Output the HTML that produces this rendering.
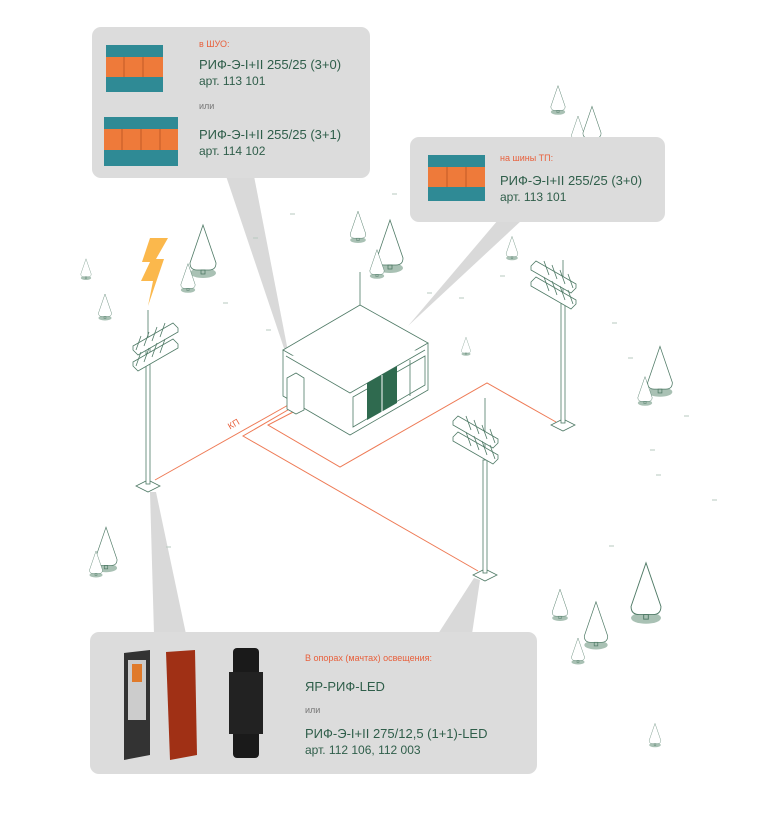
<!DOCTYPE html>
<html><head><meta charset="utf-8"><style>
html,body{margin:0;padding:0;background:#fff;}
body{width:763px;height:840px;position:relative;overflow:hidden;font-family:"Liberation Sans",sans-serif;}
.t{position:absolute;color:#2f5e4a;white-space:nowrap;}
.o{color:#e8603c;font-size:9px;}
.g{color:#777;font-size:9px;}
.b{font-size:13px;}
.s{font-size:12px;}
</style></head><body>
<svg width="763" height="840" style="position:absolute;left:0;top:0">
<defs>
<g id="tree"><ellipse cx="0" cy="0" rx="13" ry="5" fill="#a9c1b4"/><path d="M0,-48 L-13,-10 Q-13,-3 -6,-3 L6,-3 Q13,-3 13,-10 Z" fill="#fff" stroke="#4f7a66" stroke-width="0.8"/><rect x="-2" y="-3" width="4" height="4" fill="none" stroke="#4f7a66" stroke-width="0.8"/></g>
<g id="lamp" fill="#fff" stroke="#4f7a66" stroke-width="0.8"><path d="M-12,-6 L28,-29 L33,-24 L33,-20 L-7,3 L-12,-2 Z"/><path d="M-9,-2 L-4,-16 M-1,-6 L4,-20 M7,-11 L12,-25 M15,-15 L20,-29"/><path d="M-12,10 L28,-13 L33,-8 L33,-4 L-7,19 L-12,14 Z"/><path d="M-9,14 L-4,0 M-1,10 L4,-4 M7,5 L12,-9 M15,1 L20,-13"/></g>
</defs>
<!-- pointers -->
<polygon points="226,176 254,176 292,372" fill="#d9d9d9"/>
<polygon points="498,220 522,220 408,326" fill="#d9d9d9"/>
<polygon points="150,492 156,492 186,634 154,634" fill="#d9d9d9"/>
<polygon points="474,578 480,580 472,634 438,634" fill="#d9d9d9"/>
<!-- trees -->
<use href="#tree" transform="translate(203,273)"/>
<use href="#tree" transform="translate(188,290) scale(0.55)"/>
<use href="#tree" transform="translate(105,318) scale(0.5)"/>
<use href="#tree" transform="translate(86,278) scale(0.4)"/>
<use href="#tree" transform="translate(558,112) scale(0.55)"/>
<use href="#tree" transform="translate(578,140) scale(0.5)"/>
<use href="#tree" transform="translate(592,140) scale(0.7)"/>
<use href="#tree" transform="translate(358,240) scale(0.6)"/>
<use href="#tree" transform="translate(390,268) scale(1)"/>
<use href="#tree" transform="translate(377,276) scale(0.55)"/>
<use href="#tree" transform="translate(512,258) scale(0.45)"/>
<use href="#tree" transform="translate(466,354) scale(0.35)"/>
<use href="#tree" transform="translate(660,392) scale(0.95)"/>
<use href="#tree" transform="translate(645,403) scale(0.55)"/>
<use href="#tree" transform="translate(106,568) scale(0.85)"/>
<use href="#tree" transform="translate(96,575) scale(0.5)"/>
<use href="#tree" transform="translate(646,618) scale(1.15)"/>
<use href="#tree" transform="translate(560,618) scale(0.6)"/>
<use href="#tree" transform="translate(596,645) scale(0.9)"/>
<use href="#tree" transform="translate(578,662) scale(0.5)"/>
<use href="#tree" transform="translate(655,745) scale(0.45)"/>
<!-- dashes -->
<g stroke="#b7c9bf" stroke-width="1">
<path d="M290,214h5M253,238h5M223,303h5M266,330h5M427,293h5M459,298h5M500,276h5M612,323h5M628,358h5M684,416h5M650,450h5M656,475h5M712,500h5M166,547h5M609,546h5M480,196h5M392,194h5"/>
</g>
<!-- orange lines -->
<g fill="none" stroke="#ee7a55" stroke-width="1">
<path d="M155,480 L290,404"/>
<path d="M293,407 L243,436 L478,571"/>
<path d="M297,410 L268,425 L340,467 L487,383 L556,422"/>
</g>
<text x="228" y="428" fill="#e8603c" font-size="9" font-family="Liberation Sans" transform="rotate(-30 232 425)">КП</text>
<!-- bolt -->
<polygon points="150,238 168,238 156,259 164,259 148,306 153,281 141,281 150,262 142,262" fill="#fbb84c"/>
<!-- poles -->
<g fill="#fff" stroke="#4f7a66" stroke-width="0.8">
<path d="M136,486 L148,480 L160,486 L148,492 Z"/>
<rect x="146" y="340" width="4" height="144"/>
<line x1="148" y1="310" x2="148" y2="340"/>
<path d="M473,575 L485,569 L497,575 L485,581 Z"/>
<rect x="483" y="460" width="4" height="113"/>
<line x1="485" y1="398" x2="485" y2="460"/>
<path d="M551,425 L563,419 L575,425 L563,431 Z"/>
<rect x="561" y="300" width="4" height="123"/>
<line x1="563" y1="260" x2="563" y2="300"/>
</g>
<use href="#lamp" transform="translate(145,352)"/>
<use href="#lamp" transform="translate(486,445) scale(-1,1)"/>
<use href="#lamp" transform="translate(564,290) scale(-1,1)"/>
<!-- building -->
<g stroke="#4f7a66" stroke-width="0.8" fill="#fff">
<line x1="360" y1="272" x2="360" y2="305"/>
<path d="M283,350 L283,396 L350,435 L428,390 L428,343 Z"/>
<path d="M360,305 L283,350 L350,388 L428,343 Z"/>
<path d="M286,356 L350,393 L425,350"/>
<path d="M353,397 L425,356 L425,385 L353,427 Z"/>
<path d="M287,378 L296,373 L304,378 L304,410 L296,414 L287,409 Z"/>
</g>
<path d="M367,383 L397,366 L397,403 L367,420 Z" fill="#2f6a4f"/>
<line x1="382" y1="375" x2="382" y2="412" stroke="#fff" stroke-width="1"/>
<line x1="410" y1="360" x2="410" y2="396" stroke="#4f7a66" stroke-width="0.8"/>
<!-- callouts -->
<rect x="92" y="27" width="278" height="151" rx="9" fill="#dcdcdc"/>
<rect x="410" y="137" width="255" height="85" rx="9" fill="#dcdcdc"/>
<rect x="90" y="632" width="447" height="142" rx="9" fill="#dcdcdc"/>
<!-- product images -->
<g>
<rect x="106" y="45" width="57" height="12" fill="#2f8a95"/><rect x="106" y="57" width="57" height="20" fill="#ee7a3a"/><rect x="106" y="77" width="57" height="15" fill="#2f8a95"/>
<rect x="104" y="117" width="74" height="12" fill="#2f8a95"/><rect x="104" y="129" width="74" height="21" fill="#ee7a3a"/><rect x="104" y="150" width="74" height="16" fill="#2f8a95"/>
<rect x="428" y="155" width="57" height="12" fill="#2f8a95"/><rect x="428" y="167" width="57" height="20" fill="#ee7a3a"/><rect x="428" y="187" width="57" height="14" fill="#2f8a95"/>
<path d="M124,57v20M143,57v20M122,129v21M141,129v21M160,129v21M447,167v20M466,167v20" stroke="#c35a26" stroke-width="1"/>
<polygon points="124,653 150,650 150,755 124,760" fill="#333"/>
<rect x="128" y="660" width="18" height="60" fill="#ccc"/><rect x="132" y="664" width="10" height="18" fill="#e07a2a"/>
<polygon points="166,652 195,650 197,755 170,760" fill="#a03015"/>
<rect x="233" y="648" width="26" height="110" rx="4" fill="#1a1a1a"/>
<rect x="229" y="672" width="34" height="62" fill="#222"/>
</g>
</svg>
<div class="t o" style="left:199px;top:39px">в ШУО:</div>
<div class="t b" style="left:199px;top:57px">РИФ-Э-I+II 255/25 (3+0)</div>
<div class="t s" style="left:199px;top:74px">арт. 113 101</div>
<div class="t g" style="left:199px;top:101px">или</div>
<div class="t b" style="left:199px;top:127px">РИФ-Э-I+II 255/25 (3+1)</div>
<div class="t s" style="left:199px;top:144px">арт. 114 102</div>
<div class="t o" style="left:500px;top:153px">на шины ТП:</div>
<div class="t b" style="left:500px;top:173px">РИФ-Э-I+II 255/25 (3+0)</div>
<div class="t s" style="left:500px;top:190px">арт. 113 101</div>
<div class="t o" style="left:305px;top:653px">В опорах (мачтах) освещения:</div>
<div class="t b" style="left:305px;top:679px">ЯР-РИФ-LED</div>
<div class="t g" style="left:305px;top:705px">или</div>
<div class="t b" style="left:305px;top:726px">РИФ-Э-I+II 275/12,5 (1+1)-LED</div>
<div class="t s" style="left:305px;top:743px">арт. 112 106, 112 003</div>
</body></html>
